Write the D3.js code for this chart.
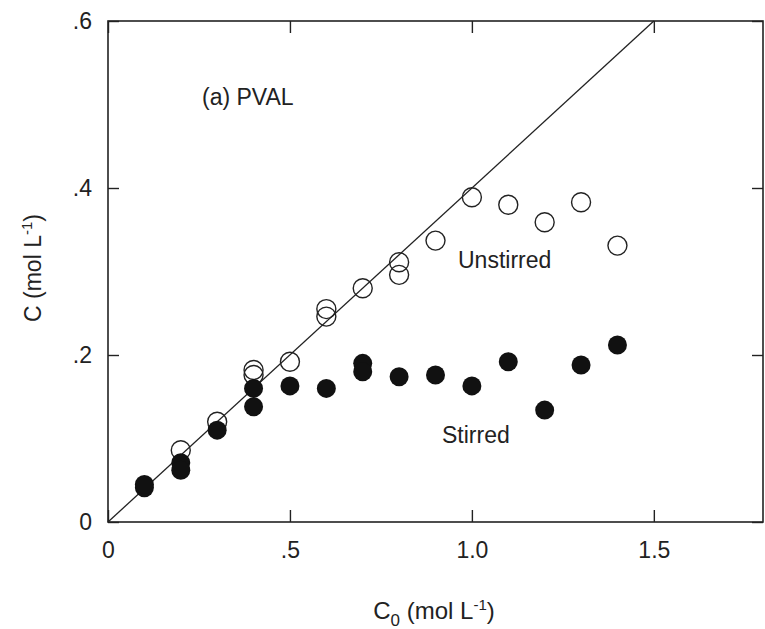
<html>
  <head>
    <title>PVAL C vs C0</title>
    <script src="https://d3js.org/d3.v7.min.js"></script>
    <style>
      body {
        margin: 0;
        background-color: white;
        font-family: "Liberation Sans", Arial, sans-serif;
      }
      svg text {
        fill: #222;
      }
    </style>
  </head>

  <body>
    <svg width="765" height="629"></svg>

    <script>
      // data
      var c0Unstirred = [0.2, 0.3, 0.4, 0.4, 0.5, 0.6, 0.6, 0.7, 0.8, 0.8, 0.9, 1.0, 1.1, 1.2, 1.3, 1.4];
      var cUnstirred  = [0.086, 0.120, 0.182, 0.176, 0.192, 0.255, 0.246, 0.280, 0.311, 0.296, 0.337, 0.389, 0.380, 0.359, 0.383, 0.331];

      var c0Stirred = [0.1, 0.1, 0.2, 0.2, 0.3, 0.4, 0.4, 0.5, 0.6, 0.7, 0.7, 0.8, 0.9, 1.0, 1.1, 1.2, 1.3, 1.4];
      var cStirred  = [0.041, 0.045, 0.071, 0.062, 0.110, 0.160, 0.138, 0.163, 0.160, 0.190, 0.180, 0.174, 0.176, 0.163, 0.192, 0.134, 0.188, 0.212];

      // reference line through the origin (slope .4)
      var lineC0 = [0, 1.5];
      var lineC  = [0, 0.6];

      var xTicks = [0, 0.5, 1.0, 1.5];
      var xTickLabels = ["0", ".5", "1.0", "1.5"];
      var yTicks = [0, 0.2, 0.4, 0.6];
      var yTickLabels = ["0", ".2", ".4", ".6"];

      var mLeft = 108, mRight = 763, mTop = 21, mBottom = 522;
      var ink = "#222";

      var svg = d3.select("svg");

      var x = d3.scaleLinear().domain([0, 1.8]).range([mLeft, mRight]);
      var y = d3.scaleLinear().domain([0, 0.6]).range([mBottom, mTop]);

      var styleAxis = function(g){
        g.select(".domain").remove();
        g.selectAll("line").attr("stroke", ink).attr("stroke-width", 1.4);
        g.selectAll("text")
          .style("font-family", '"Liberation Sans", Arial, sans-serif')
          .style("font-size", "23px")
          .attr("fill", ink);
      };

      svg.append("g")
        .attr("transform", "translate(0," + mBottom + ")")
        .call(d3.axisBottom(x).tickValues(xTicks).tickSize(-12).tickPadding(20)
          .tickFormat(function(d, i){ return xTickLabels[i]; }))
        .call(styleAxis);

      svg.append("g")
        .attr("transform", "translate(0," + mTop + ")")
        .call(d3.axisTop(x).tickValues(xTicks).tickSize(-12).tickFormat(""))
        .call(styleAxis);

      svg.append("g")
        .attr("transform", "translate(" + mLeft + ",0)")
        .call(d3.axisLeft(y).tickValues(yTicks).tickSize(-11).tickPadding(16)
          .tickFormat(function(d, i){ return yTickLabels[i]; }))
        .call(styleAxis);

      svg.append("g")
        .attr("transform", "translate(" + mRight + ",0)")
        .call(d3.axisRight(y).tickValues(yTicks).tickSize(-11).tickFormat(""))
        .call(styleAxis);

      // frame
      svg.append("rect")
        .attr("x", mLeft).attr("y", mTop)
        .attr("width", mRight - mLeft).attr("height", mBottom - mTop)
        .attr("fill", "none").attr("stroke", ink).attr("stroke-width", 1.6);

      // reference line
      svg.append("line")
        .attr("x1", x(lineC0[0])).attr("y1", y(lineC[0]))
        .attr("x2", x(lineC0[1])).attr("y2", y(lineC[1]))
        .attr("stroke", ink).attr("stroke-width", 1.3);

      // unstirred (open)
      svg.append("g").selectAll("circle")
        .data(c0Unstirred)
        .enter().append("circle")
        .attr("cx", function(d){ return x(d); })
        .attr("cy", function(d, i){ return y(cUnstirred[i]); })
        .attr("r", 9.5)
        .attr("fill", "none")
        .attr("stroke", ink)
        .attr("stroke-width", 1.4);

      // stirred (filled)
      svg.append("g").selectAll("circle")
        .data(c0Stirred)
        .enter().append("circle")
        .attr("cx", function(d){ return x(d); })
        .attr("cy", function(d, i){ return y(cStirred[i]); })
        .attr("r", 9.5)
        .attr("fill", "#111");

      // labels
      svg.append("text")
        .attr("x", 202).attr("y", 105)
        .style("font-size", "23px")
        .text("(a) PVAL");

      svg.append("text")
        .attr("x", 458).attr("y", 268)
        .style("font-size", "23px")
        .text("Unstirred");

      svg.append("text")
        .attr("x", 442).attr("y", 443)
        .style("font-size", "23px")
        .text("Stirred");

      // x axis title
      var xt = svg.append("text")
        .attr("x", 434).attr("y", 619)
        .attr("text-anchor", "middle")
        .style("font-size", "24px");
      xt.append("tspan").text("C");
      xt.append("tspan").attr("dy", 7).style("font-size", "17px").text("0");
      xt.append("tspan").attr("dy", -7).text(" (mol L");
      xt.append("tspan").attr("dy", -9).style("font-size", "15px").text("-1");
      xt.append("tspan").attr("dy", 9).text(")");

      // y axis title
      var yt = svg.append("text")
        .attr("transform", "translate(41,268) rotate(-90)")
        .attr("text-anchor", "middle")
        .style("font-size", "23px");
      yt.append("tspan").text("C (mol L");
      yt.append("tspan").attr("dy", -9).style("font-size", "15px").text("-1");
      yt.append("tspan").attr("dy", 9).text(")");
    </script>
  </body>
</html>
